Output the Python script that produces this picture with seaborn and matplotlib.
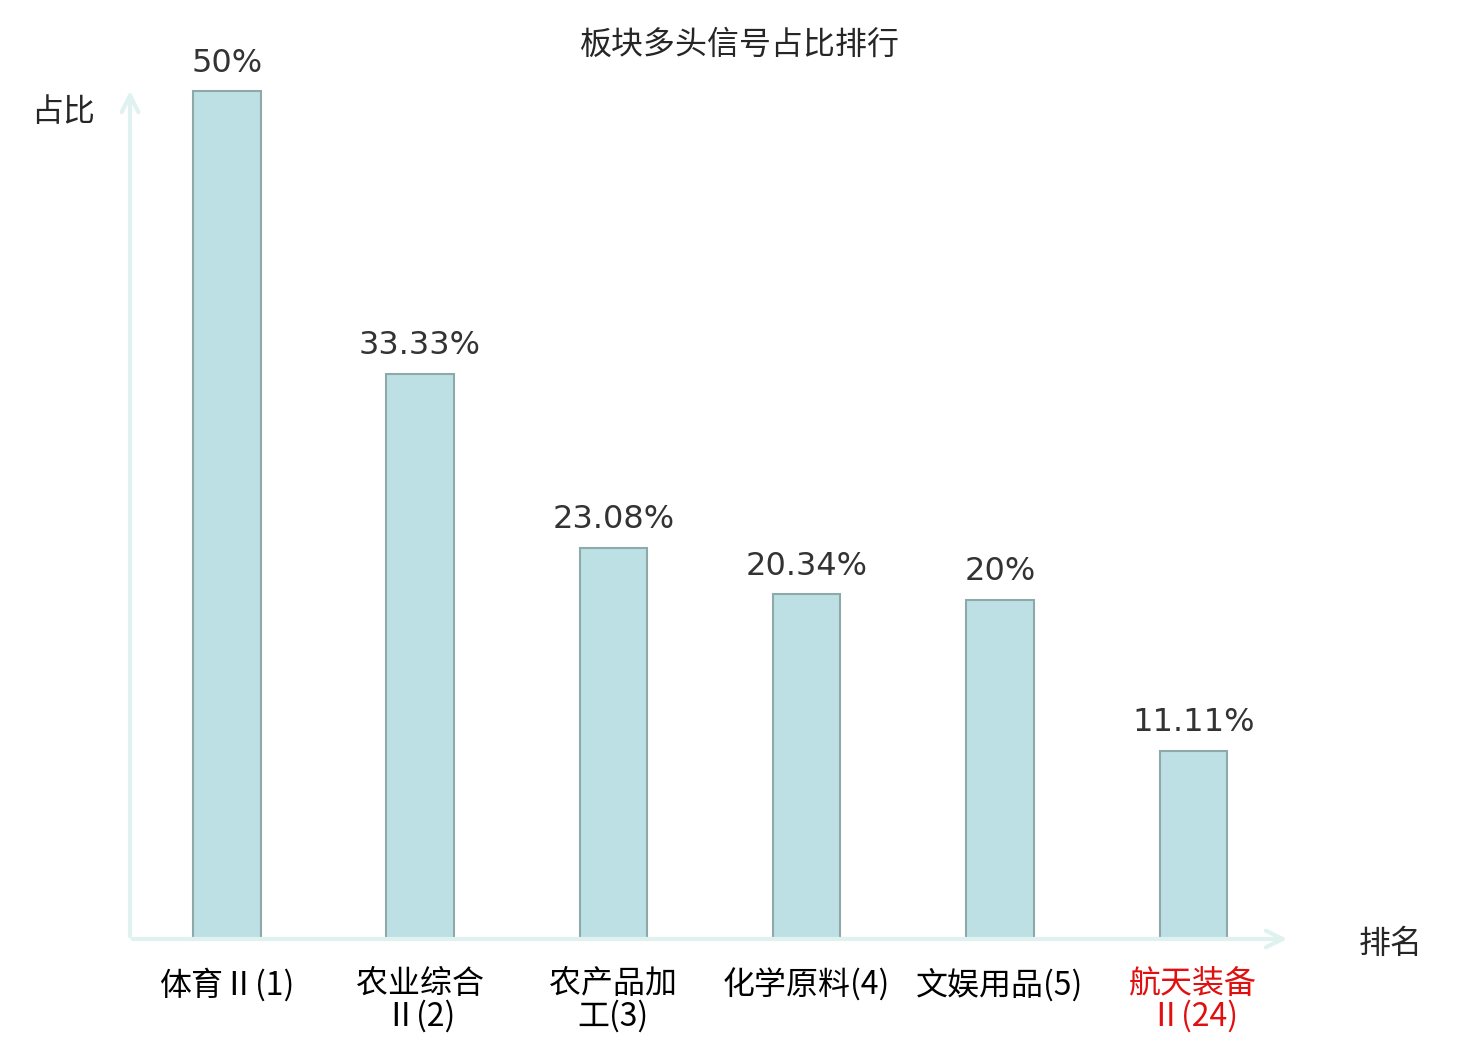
import numpy as np
import pandas as pd
import seaborn as sns
import matplotlib.pyplot as plt

# data
sectors = ["体育Ⅱ(1)", "农业综合\nⅡ(2)", "农产品加\n工(3)", "化学原料(4)", "文娱用品(5)", "航天装备\nⅡ(24)"]
shares = [50, 33.33, 23.08, 20.34, 20, 11.11]
share_labels = ["50%", "33.33%", "23.08%", "20.34%", "20%", "11.11%"]
highlight = "航天装备\nⅡ(24)"

sns.set_style("white")
plt.rcParams['font.family'] = ['Noto Sans CJK SC', 'DejaVu Sans']

df = pd.DataFrame({"sector": sectors, "share": shares})

fig = plt.figure(figsize=(14.8, 10.4), dpi=100)
ax = fig.add_axes([130 / 1480, 101 / 1040, 1160 / 1480, 851 / 1040])

g = sns.barplot(data=df, x="sector", y="share", color="#bce0e3", saturation=1,
                width=0.35, edgecolor="#8fa9ab", linewidth=1.5, ax=ax)
ax.bar_label(ax.containers[0], labels=share_labels, padding=9, fontsize=23,
             color="#333333", family="DejaVu Sans")

ax.set_xlim(-0.5, 5.5)
ax.set_ylim(0, 50.18)
ax.set_yticks([])
ax.set_xlabel("")
ax.set_ylabel("")
for s in ax.spines.values():
    s.set_visible(False)
ax.tick_params(axis="x", length=0, pad=21)
for lab in ax.get_xticklabels():
    lab.set_fontsize(23)
    lab.set_linespacing(1.0)
    lab.set_verticalalignment("top")
    if lab.get_text() == highlight:
        lab.set_color("#e01010")
    else:
        lab.set_color("black")

axis_col = "#dff2ef"
ax.annotate("", xy=(1.0, 0), xytext=(0, 0), xycoords="axes fraction",
            arrowprops=dict(arrowstyle="->", color=axis_col, lw=3, mutation_scale=30),
            annotation_clip=False)
ax.annotate("", xy=(0, 1.0), xytext=(0, 0), xycoords="axes fraction",
            arrowprops=dict(arrowstyle="->", color=axis_col, lw=3, mutation_scale=30),
            annotation_clip=False)

fig.text(63 / 1480, 1 - 112 / 1040, "占比", fontsize=23, ha="center", va="center")
fig.text(1391 / 1480, 1 - 944 / 1040, "排名", fontsize=23, ha="center", va="center")
fig.text(740 / 1480, 1 - 45 / 1040, "板块多头信号占比排行", fontsize=23, ha="center", va="center")

plt.savefig("out.png", dpi=100)
